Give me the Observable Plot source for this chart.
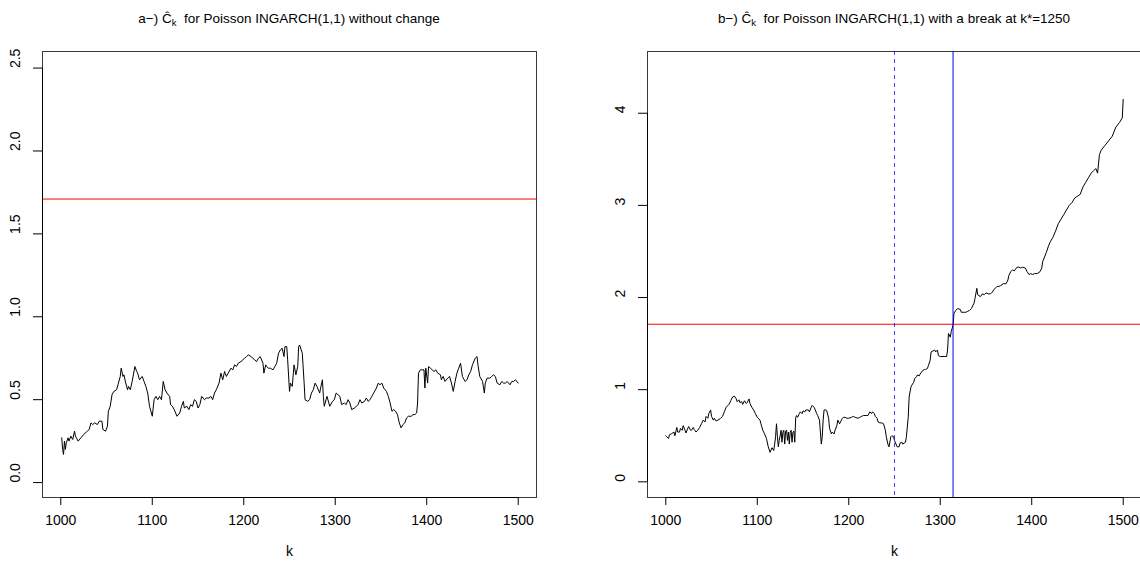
<!DOCTYPE html>
<html><head><meta charset="utf-8">
<script src="https://cdn.jsdelivr.net/npm/d3@7"></script>
<script src="https://cdn.jsdelivr.net/npm/@observablehq/plot@0.6"></script>
<style>
body{margin:0;background:#fff;}
#wrap{position:relative;width:1140px;height:564px;overflow:hidden;background:#fff;font-family:"Liberation Sans",Arial,sans-serif;}
.panel{position:absolute;top:0;}
.title{position:absolute;top:11px;font-size:13.5px;white-space:pre;transform:translateX(-50%);color:#000;line-height:16px;}
.title sub{font-size:9.5px;vertical-align:-3px;}
</style></head><body><div id="wrap"></div>
<script>
// ---- data ----
const xTicks = [1000, 1100, 1200, 1300, 1400, 1500];
const leftYTicks = [0, 0.5, 1, 1.5, 2, 2.5];
const rightYTicks = [0, 1, 2, 3, 4];
const threshold = 1.71;
const breakK = 1250;
const detectK = 1314;

const leftK = [1001,1002,1003,1004,1005,1006,1008,1009,1011,1013,1015,1016,1019,1022,1025,1029,1031,1033,1035,1037,1040,1042,1045,1046,1049,1051,1052,1054,1056,1058,1061,1063,1065,1066,1068,1069,1071,1073,1074,1076,1078,1081,1083,1084,1086,1089,1091,1093,1095,1097,1100,1102,1104,1106,1108,1110,1112,1114,1116,1119,1120,1122,1124,1127,1130,1132,1134,1135,1138,1140,1142,1144,1146,1148,1150,1152,1154,1157,1159,1162,1164,1166,1168,1170,1173,1175,1177,1179,1181,1183,1186,1188,1190,1192,1194,1197,1199,1201,1203,1205,1208,1210,1212,1214,1216,1218,1221,1222,1224,1225,1227,1229,1232,1234,1236,1238,1240,1242,1244,1245,1247,1248,1250,1251,1253,1255,1257,1259,1260,1261,1264,1266,1267,1270,1272,1274,1276,1278,1280,1283,1284,1286,1287,1288,1290,1291,1293,1294,1297,1299,1301,1303,1305,1307,1310,1312,1314,1316,1318,1321,1323,1325,1327,1329,1332,1334,1336,1338,1340,1342,1345,1347,1349,1351,1353,1356,1358,1360,1362,1364,1366,1368,1370,1372,1374,1376,1378,1380,1383,1385,1387,1389,1390,1391,1393,1395,1397,1398,1399,1401,1402,1404,1406,1408,1410,1412,1415,1416,1418,1420,1423,1425,1427,1429,1431,1433,1435,1437,1439,1442,1444,1446,1448,1450,1453,1455,1456,1458,1461,1463,1464,1466,1469,1471,1473,1475,1477,1480,1482,1484,1486,1488,1491,1493,1495,1497,1500];
const leftC = [0.27,0.20,0.17,0.25,0.20,0.24,0.27,0.25,0.28,0.26,0.31,0.28,0.25,0.27,0.29,0.31,0.32,0.36,0.35,0.36,0.35,0.37,0.37,0.32,0.31,0.34,0.43,0.46,0.53,0.55,0.56,0.60,0.64,0.69,0.64,0.65,0.60,0.56,0.58,0.56,0.61,0.70,0.67,0.66,0.62,0.64,0.61,0.58,0.54,0.46,0.40,0.50,0.52,0.50,0.52,0.50,0.61,0.56,0.54,0.52,0.47,0.46,0.44,0.40,0.42,0.46,0.49,0.45,0.46,0.44,0.47,0.46,0.50,0.49,0.45,0.47,0.52,0.50,0.51,0.51,0.52,0.50,0.54,0.56,0.60,0.66,0.62,0.67,0.64,0.66,0.69,0.68,0.71,0.70,0.72,0.73,0.74,0.75,0.76,0.77,0.76,0.75,0.74,0.73,0.75,0.76,0.72,0.66,0.71,0.70,0.69,0.69,0.68,0.70,0.72,0.78,0.80,0.81,0.76,0.82,0.82,0.74,0.55,0.60,0.58,0.71,0.65,0.70,0.82,0.83,0.78,0.60,0.50,0.49,0.50,0.54,0.56,0.60,0.58,0.54,0.57,0.62,0.52,0.46,0.50,0.52,0.48,0.46,0.49,0.50,0.54,0.53,0.52,0.47,0.48,0.47,0.50,0.48,0.44,0.45,0.46,0.47,0.50,0.48,0.49,0.51,0.49,0.50,0.52,0.54,0.57,0.60,0.59,0.60,0.57,0.55,0.52,0.48,0.43,0.44,0.43,0.41,0.36,0.33,0.35,0.36,0.39,0.40,0.40,0.41,0.41,0.42,0.48,0.66,0.68,0.68,0.68,0.57,0.69,0.60,0.70,0.69,0.68,0.67,0.68,0.66,0.65,0.62,0.64,0.61,0.63,0.64,0.60,0.55,0.61,0.66,0.69,0.72,0.64,0.61,0.62,0.65,0.67,0.71,0.75,0.76,0.71,0.64,0.61,0.54,0.60,0.63,0.63,0.64,0.65,0.64,0.60,0.59,0.61,0.60,0.60,0.61,0.59,0.61,0.61,0.62,0.60];

const rightK = [1000,1001,1003,1004,1006,1009,1010,1012,1013,1015,1016,1018,1019,1021,1022,1024,1025,1027,1028,1030,1031,1033,1035,1037,1039,1041,1043,1044,1046,1047,1049,1050,1052,1053,1055,1057,1060,1062,1064,1066,1069,1071,1073,1075,1077,1078,1080,1081,1083,1084,1086,1088,1089,1091,1092,1094,1096,1098,1100,1103,1104,1106,1108,1110,1112,1114,1116,1118,1119,1120,1121,1122,1123,1124,1125,1126,1127,1128,1129,1130,1131,1132,1133,1134,1135,1136,1137,1138,1139,1140,1141,1142,1143,1144,1146,1147,1149,1150,1152,1153,1156,1157,1159,1160,1162,1163,1165,1166,1168,1169,1170,1171,1172,1173,1175,1176,1178,1179,1181,1182,1184,1185,1187,1188,1190,1191,1193,1194,1196,1198,1200,1203,1205,1207,1210,1212,1214,1216,1219,1221,1223,1225,1226,1228,1229,1231,1232,1234,1236,1238,1240,1241,1243,1244,1246,1247,1249,1250,1252,1253,1255,1256,1258,1259,1262,1263,1265,1266,1268,1269,1271,1272,1274,1275,1277,1278,1281,1283,1284,1286,1287,1289,1290,1292,1294,1295,1297,1298,1300,1303,1305,1307,1308,1309,1311,1312,1314,1315,1317,1319,1322,1323,1325,1328,1330,1332,1334,1337,1338,1340,1341,1344,1346,1348,1350,1353,1355,1357,1359,1362,1364,1366,1369,1372,1374,1375,1377,1379,1381,1384,1386,1388,1390,1393,1395,1397,1399,1401,1403,1406,1409,1411,1412,1414,1416,1418,1420,1423,1426,1429,1432,1435,1438,1441,1444,1447,1450,1453,1456,1459,1462,1465,1468,1470,1472,1474,1476,1480,1484,1488,1492,1496,1499,1500];
const rightC = [0.50,0.49,0.47,0.51,0.52,0.54,0.50,0.59,0.54,0.54,0.58,0.56,0.61,0.56,0.53,0.58,0.60,0.56,0.56,0.59,0.57,0.54,0.56,0.59,0.63,0.67,0.65,0.71,0.69,0.74,0.78,0.71,0.67,0.69,0.66,0.67,0.69,0.71,0.76,0.81,0.84,0.88,0.92,0.93,0.90,0.87,0.89,0.86,0.87,0.84,0.88,0.85,0.86,0.90,0.85,0.81,0.78,0.74,0.70,0.67,0.63,0.56,0.52,0.47,0.38,0.32,0.37,0.34,0.41,0.49,0.63,0.49,0.38,0.45,0.50,0.56,0.43,0.54,0.56,0.41,0.55,0.56,0.45,0.54,0.41,0.54,0.56,0.43,0.54,0.55,0.43,0.70,0.72,0.70,0.74,0.76,0.74,0.77,0.76,0.78,0.78,0.76,0.81,0.83,0.81,0.79,0.74,0.72,0.67,0.54,0.41,0.49,0.67,0.78,0.78,0.77,0.69,0.58,0.52,0.54,0.52,0.56,0.61,0.67,0.63,0.65,0.69,0.70,0.70,0.69,0.69,0.70,0.71,0.70,0.69,0.70,0.71,0.72,0.72,0.72,0.76,0.74,0.76,0.74,0.71,0.69,0.65,0.64,0.64,0.63,0.56,0.49,0.40,0.38,0.49,0.50,0.49,0.45,0.40,0.38,0.38,0.42,0.43,0.41,0.43,0.49,0.70,0.92,1.03,1.05,1.08,1.12,1.14,1.16,1.15,1.17,1.21,1.22,1.22,1.23,1.26,1.32,1.41,1.42,1.43,1.41,1.43,1.37,1.36,1.36,1.36,1.36,1.43,1.61,1.57,1.63,1.70,1.83,1.86,1.88,1.87,1.84,1.84,1.84,1.85,1.86,1.88,1.94,1.99,2.10,2.03,2.01,2.04,2.03,2.05,2.04,2.04,2.06,2.09,2.12,2.12,2.13,2.15,2.15,2.19,2.24,2.28,2.30,2.29,2.33,2.33,2.32,2.33,2.32,2.28,2.25,2.26,2.25,2.26,2.26,2.28,2.32,2.39,2.44,2.49,2.55,2.60,2.65,2.72,2.80,2.85,2.90,2.95,3.00,3.03,3.08,3.10,3.12,3.20,3.25,3.30,3.35,3.38,3.40,3.35,3.55,3.60,3.65,3.70,3.75,3.85,3.90,3.95,4.15];

const leftTitle = ["a−) ", "Ĉ", "k", "  for Poisson INGARCH(1,1) without change"];
const rightTitle = ["b−) ", "Ĉ", "k", "  for Poisson INGARCH(1,1) with a break at k*=1250"];

// ---- drawing ----
const FONT = '"Liberation Sans", Arial, Helvetica, sans-serif';
const xDomain = [980, 1520];

function panel({k, c, yDomain, yTicks, yFmt, extra, ml, width}) {
  const data = k.map((kk, i) => ({k: kk, c: c[i]}));
  const fw = 494;
  return Plot.plot({
    width, height: 564,
    marginLeft: ml, marginRight: width - ml - fw, marginTop: 51, marginBottom: 67,
    x: {domain: xDomain, label: null},
    y: {domain: yDomain, label: null},
    style: {fontFamily: FONT, fontSize: "14px", background: "white", overflow: "visible", color: "black"},
    marks: [
      Plot.frame({stroke: "#3a3a3a", strokeWidth: 1}),
      Plot.line(data, {x: "k", y: "c", stroke: "black", strokeWidth: 1}),
      ...extra,
      Plot.ruleY([yDomain[0]], {x1: xTicks[0], x2: xTicks[xTicks.length - 1], stroke: "black", strokeWidth: 1}),
      Plot.ruleX([xDomain[0]], {y1: yTicks[0], y2: yTicks[yTicks.length - 1], stroke: "black", strokeWidth: 1}),
      Plot.axisX({ticks: xTicks, tickSize: 8, tickFormat: () => "", label: null, stroke: "black"}),
      Plot.axisY({ticks: yTicks, tickSize: 9, tickFormat: () => "", label: null, stroke: "black"}),
      Plot.text(xTicks, {x: d => d, frameAnchor: "bottom", dy: 27, text: d => String(d), fill: "black"}),
      Plot.text(yTicks, {y: d => d, frameAnchor: "left", dx: -27, rotate: -90, text: yFmt, fill: "black"}),
      Plot.text(["k"], {frameAnchor: "bottom", dy: 58, text: d => d, fill: "black"})
    ]
  });
}

const wrap = document.getElementById("wrap");

const left = panel({
  k: leftK, c: leftC, yDomain: [-0.09, 2.6], yTicks: leftYTicks, yFmt: d => d.toFixed(1),
  ml: 42, width: 570,
  extra: [Plot.ruleY([threshold], {stroke: "#ff0000", strokeWidth: 1})]
});
left.classList.add("panel"); left.style.left = "0px";
wrap.appendChild(left);

const right = panel({
  k: rightK, c: rightC, yDomain: [-0.17, 4.67], yTicks: rightYTicks, yFmt: d => String(d),
  ml: 77, width: 600,
  extra: [
    Plot.ruleY([threshold], {stroke: "#ff0000", strokeWidth: 1}),
    Plot.ruleX([breakK], {stroke: "#0000ff", strokeWidth: 1, strokeOpacity: 0.75, strokeDasharray: "4,4"}),
    Plot.ruleX([detectK], {stroke: "#0000ff", strokeWidth: 1})
  ]
});
right.classList.add("panel"); right.style.left = "570px";
wrap.appendChild(right);

function addTitle(parts, cx) {
  const d = document.createElement("div");
  d.className = "title";
  d.style.left = cx + "px";
  const [a, C, sub, rest] = parts;
  d.append(document.createTextNode(a));
  const s = document.createElement("span"); s.textContent = C; d.append(s);
  const sb = document.createElement("sub"); sb.textContent = sub; d.append(sb);
  d.append(document.createTextNode(rest));
  wrap.appendChild(d);
}
addTitle(leftTitle, 289);
addTitle(rightTitle, 894);
</script>
</body></html>
